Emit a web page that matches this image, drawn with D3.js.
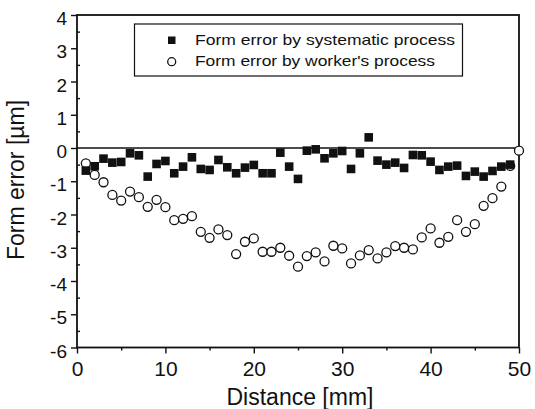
<!DOCTYPE html>
<html>
<head>
<meta charset="utf-8">
<script src="https://d3js.org/d3.v7.min.js"></script>
<style>
  body { margin: 0; background: #fff; }
  text { font-family: "Liberation Sans", Arial, sans-serif; fill: #111; }
</style>
</head>
<body>
<div id="chart"></div>
<script>
// distance positions [mm]
var distance = d3.range(1, 50);

// form error by systematic process [um]
var systematic = [-0.68, -0.55, -0.32, -0.44, -0.42, -0.16, -0.22, -0.86, -0.48, -0.39,
  -0.76, -0.56, -0.28, -0.63, -0.66, -0.36, -0.58, -0.76, -0.59, -0.51,
  -0.76, -0.76, -0.14, -0.56, -0.93, -0.08, -0.04, -0.31, -0.16, -0.09,
  -0.63, -0.16, 0.32, -0.38, -0.50, -0.44, -0.60, -0.21, -0.22, -0.41,
  -0.66, -0.56, -0.53, -0.84, -0.71, -0.86, -0.69, -0.56, -0.50];

// form error by worker's process [um] (last point sits on the right frame)
var workerX = d3.range(1, 51);
var worker = [-0.46, -0.81, -1.03, -1.41, -1.58, -1.31, -1.48, -1.77, -1.56, -1.78,
  -2.17, -2.13, -2.05, -2.52, -2.70, -2.45, -2.62, -3.19, -2.82, -2.72,
  -3.12, -3.12, -3.00, -3.24, -3.57, -3.25, -3.14, -3.41, -2.94, -3.02,
  -3.47, -3.23, -3.07, -3.32, -3.14, -2.95, -3.00, -3.05, -2.69, -2.42,
  -2.85, -2.67, -2.17, -2.52, -2.29, -1.74, -1.51, -1.16, -0.54, -0.08];

var xTicks = [0, 10, 20, 30, 40, 50];
var yTicks = [4, 3, 2, 1, 0, -1, -2, -3, -4, -5, -6];
var legendLabels = ["Form error by systematic process", "Form error by worker's process"];

var margin = {top: 15, right: 16, bottom: 61.5, left: 77},
    width = 535 - margin.left - margin.right,
    height = 409 - margin.top - margin.bottom;

var svg = d3.select("#chart").append("svg")
  .attr("width", 535)
  .attr("height", 409)
  .append("g")
  .attr("transform", "translate(" + margin.left + "," + margin.top + ")");

var x = d3.scaleLinear().domain([0, 50]).range([0, width]);
var y = d3.scaleLinear().domain([-6, 4]).range([height, 0]);

// minor ticks
svg.append("g")
  .attr("transform", "translate(0," + height + ")")
  .call(d3.axisBottom(x).tickValues([5, 15, 25, 35, 45]).tickSize(3).tickFormat(""))
  .call(function(g) { g.select(".domain").remove(); });
svg.append("g")
  .call(d3.axisRight(y).tickValues(d3.range(-5.5, 4, 1)).tickSize(3).tickFormat(""))
  .call(function(g) { g.select(".domain").remove(); });

// major ticks
var xAxis = svg.append("g")
  .attr("transform", "translate(0," + height + ")")
  .call(d3.axisBottom(x).tickValues(xTicks).tickSize(6).tickPadding(8));
var yAxis = svg.append("g")
  .call(d3.axisLeft(y).tickValues(yTicks).tickSize(6).tickPadding(4)
    .tickFormat(function(d) { return d < 0 ? "-" + Math.abs(d) : d; }));

xAxis.selectAll("text").attr("font-size", "21px");
yAxis.selectAll("text").attr("font-size", "19px").attr("dy", "0.5em");
[xAxis, yAxis].forEach(function(g) {
  g.select(".domain").remove();
  g.selectAll("text").style("fill", "#111");
});
svg.selectAll("line").attr("stroke", "#111").attr("stroke-width", 1.4);

// frame
svg.append("rect")
  .attr("width", width).attr("height", height)
  .attr("fill", "none").attr("stroke", "#111").attr("stroke-width", 1.8);

// zero line
svg.append("line")
  .attr("x1", 0).attr("x2", width)
  .attr("y1", y(0)).attr("y2", y(0))
  .attr("stroke", "#111").attr("stroke-width", 1.3);

// worker's process - open circles
svg.append("g").selectAll("circle")
  .data(worker)
  .enter().append("circle")
  .attr("cx", function(d, i) { return x(workerX[i]); })
  .attr("cy", function(d) { return y(d); })
  .attr("r", 4.5)
  .attr("fill", "#fff")
  .attr("stroke", "#111")
  .attr("stroke-width", 1.3);

// systematic process - filled squares
var s = 8.6;
svg.append("g").selectAll("rect")
  .data(systematic)
  .enter().append("rect")
  .attr("x", function(d, i) { return x(distance[i]) - s / 2; })
  .attr("y", function(d) { return y(d) - s / 2; })
  .attr("width", s)
  .attr("height", s)
  .attr("fill", "#111");

// legend
var legend = svg.append("g").attr("transform", "translate(" + (134.5 - margin.left) + "," + (24 - margin.top) + ")");
legend.append("rect")
  .attr("width", 328).attr("height", 52)
  .attr("fill", "#fff").attr("stroke", "#111").attr("stroke-width", 1.2);
legend.append("rect")
  .attr("x", 33.5).attr("y", 12.5).attr("width", 7.5).attr("height", 7.5).attr("fill", "#111");
legend.append("circle")
  .attr("cx", 37.2).attr("cy", 37.7).attr("r", 4)
  .attr("fill", "#fff").attr("stroke", "#111").attr("stroke-width", 1.3);
legend.selectAll(".lab")
  .data(legendLabels)
  .enter().append("text")
  .attr("class", "lab")
  .attr("x", 60.5)
  .attr("y", function(d, i) { return 21 + i * 21; })
  .attr("font-size", "15px")
  .attr("textLength", function(d, i) { return i === 0 ? 260 : 240; })
  .attr("lengthAdjust", "spacingAndGlyphs")
  .text(function(d) { return d; });

// axis titles
svg.append("text")
  .attr("x", 300 - margin.left)
  .attr("y", 405 - margin.top)
  .attr("text-anchor", "middle")
  .attr("font-size", "23px")
  .text("Distance [mm]");

svg.append("text")
  .attr("transform", "rotate(-90)")
  .attr("x", -(180 - margin.top))
  .attr("y", 23.5 - margin.left)
  .attr("text-anchor", "middle")
  .attr("font-size", "23px")
  .text("Form error [\u00b5m]");
</script>
</body>
</html>
